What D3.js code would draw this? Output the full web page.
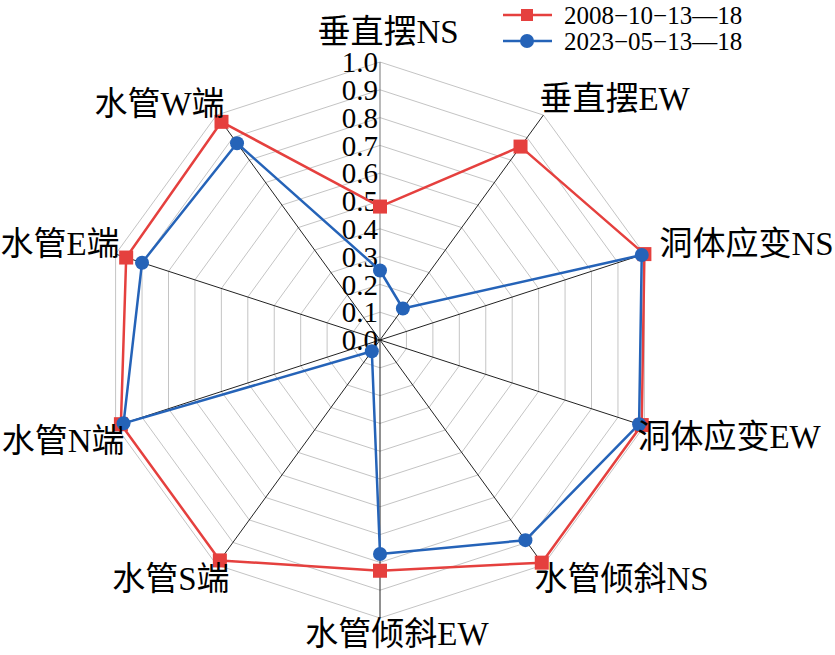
<!DOCTYPE html>
<html>
<head>
<meta charset="utf-8">
<script src="https://cdn.jsdelivr.net/npm/d3@7"></script>
<style>
  body { margin: 0; background: #fff; }
  svg { display: block; }
  text { font-family: "Liberation Serif", "Noto Sans CJK SC", serif; fill: #000; }
</style>
</head>
<body>
<svg id="radar"></svg>
<script>
/* data */
const axes = ["垂直摆NS", "垂直摆EW", "洞体应变NS", "洞体应变EW", "水管倾斜NS",
  "水管倾斜EW", "水管S端", "水管N端", "水管E端", "水管W端"];
const ticks = [0.0, 0.1, 0.2, 0.3, 0.4, 0.5, 0.6, 0.7, 0.8, 0.9, 1.0];
const seriesNames = ["2008\u221210\u221213\u201418", "2023\u221205\u221213\u201418"];
const values2008 = [0.48, 0.86, 1.0, 0.99, 0.99, 0.83, 0.98, 0.98, 0.96, 0.97];
const values2023 = [0.25, 0.14, 0.99, 0.98, 0.89, 0.77, 0.05, 0.97, 0.90, 0.875];

/* layout */
const width = 835, height = 655;
const cx = 380, cy = 340, R = 278;
const red = "#e5403e", blue = "#2563b8";
// label anchor + offset from the outer vertex, one per axis
const labelPos = [
  ["middle", 8, -19], ["start", -4, -5], ["start", 15, 1], ["start", -7, 22],
  ["start", -9, 25], ["middle", 17, 27], ["end", 13, 25], ["end", 9, 26],
  ["end", 4, 1], ["end", 8, 0]
];

const svg = d3.select("#radar").attr("width", width).attr("height", height);
const g = svg.append("g").attr("transform", "translate(" + cx + "," + cy + ")");

const r = d3.scaleLinear().domain([0, 1]).range([0, R]);
const angle = d3.scaleLinear().domain([0, axes.length]).range([0, 2 * Math.PI]);

function pt(i, v) {
  let a = angle(i);
  return [r(v) * Math.sin(a), -r(v) * Math.cos(a)];
}

// rings
ticks.slice(1).forEach(t => {
  g.append("path")
    .attr("d", d3.line()(axes.map((d, i) => pt(i, t))) + "Z")
    .attr("fill", "none")
    .attr("stroke", "#c4c4c4")
    .attr("stroke-width", 1);
});

// spokes
g.selectAll(".spoke")
  .data(axes)
  .enter().append("line")
  .attr("class", "spoke")
  .attr("x1", 0).attr("y1", 0)
  .attr("x2", (d, i) => pt(i, 1)[0])
  .attr("y2", (d, i) => pt(i, 1)[1])
  .attr("stroke", (d, i) => i == 0 ? "#777" : "#222")
  .attr("stroke-width", 1);

// tick labels
g.selectAll(".tick")
  .data(ticks)
  .enter().append("text")
  .attr("class", "tick")
  .attr("x", -2)
  .attr("y", d => -r(d))
  .attr("dy", "0.35em")
  .attr("text-anchor", "end")
  .style("font-size", "29px")
  .text(d => d3.format(".1f")(d));

// series
const line = d3.line();
[[values2008, red], [values2023, blue]].forEach(([vals, col], k) => {
  g.append("path")
    .attr("d", line(vals.map((v, i) => pt(i, v))) + "Z")
    .attr("fill", "none")
    .attr("stroke", col)
    .attr("stroke-width", 2.5)
    .attr("stroke-linejoin", "round");

  if (k == 0) {
    g.selectAll(".sq")
      .data(vals)
      .enter().append("rect")
      .attr("x", (d, i) => pt(i, d)[0] - 7)
      .attr("y", (d, i) => pt(i, d)[1] - 7)
      .attr("width", 14).attr("height", 14)
      .attr("fill", col);
  } else {
    g.selectAll(".dot")
      .data(vals)
      .enter().append("circle")
      .attr("cx", (d, i) => pt(i, d)[0])
      .attr("cy", (d, i) => pt(i, d)[1])
      .attr("r", 7)
      .attr("fill", col);
  }
});

// axis labels
g.selectAll(".axlabel")
  .data(axes)
  .enter().append("text")
  .attr("class", "axlabel")
  .attr("x", (d, i) => pt(i, 1)[0] + labelPos[i][1])
  .attr("y", (d, i) => pt(i, 1)[1] + labelPos[i][2])
  .attr("text-anchor", (d, i) => labelPos[i][0])
  .style("font-size", "33px")
  .text(d => d);

// legend
const legend = svg.append("g").attr("transform", "translate(503,15)");
seriesNames.forEach((name, i) => {
  let col = i == 0 ? red : blue;
  let row = legend.append("g").attr("transform", "translate(0," + i * 26 + ")");
  row.append("line")
    .attr("x1", 0).attr("x2", 49).attr("y1", 0).attr("y2", 0)
    .attr("stroke", col).attr("stroke-width", 2.5);
  if (i == 0) {
    row.append("rect").attr("x", 18).attr("y", -6).attr("width", 12).attr("height", 12).attr("fill", col);
  } else {
    row.append("circle").attr("cx", 24).attr("cy", 0).attr("r", 7).attr("fill", col);
  }
  row.append("text")
    .attr("x", 61).attr("y", 0).attr("dy", "0.35em")
    .style("font-size", "25px")
    .text(name);
});
</script>
</body>
</html>
